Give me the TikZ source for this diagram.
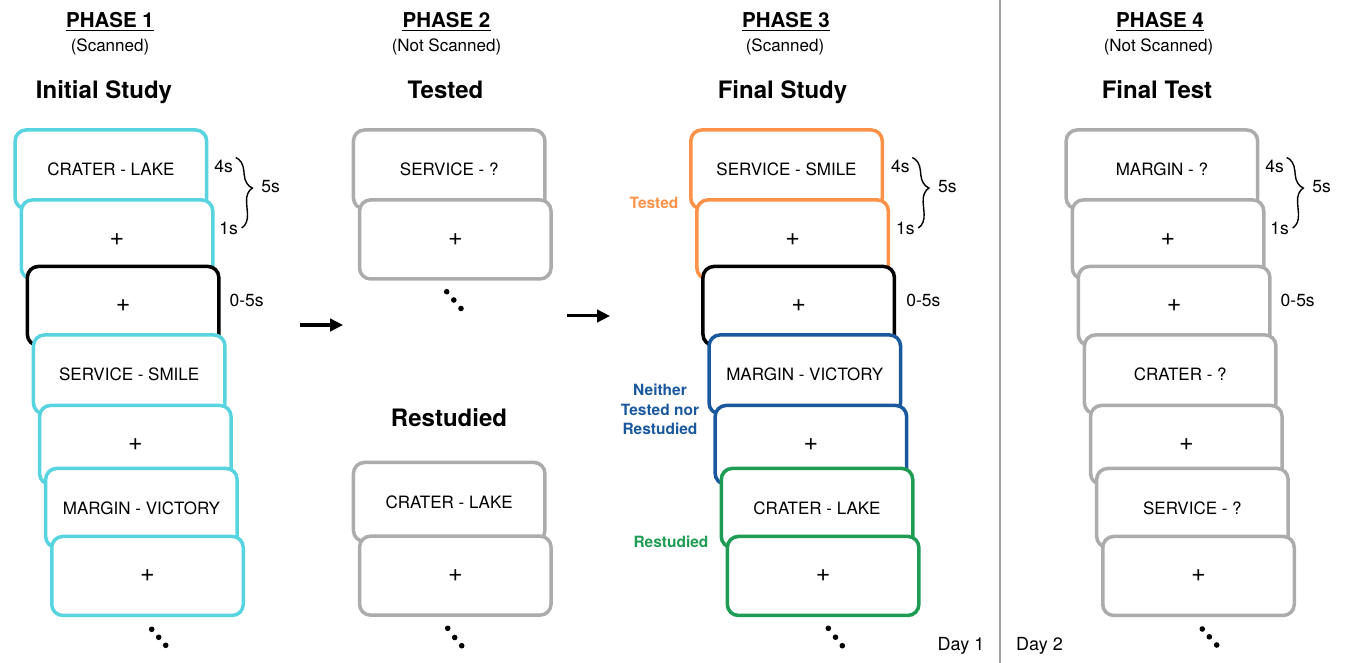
\documentclass[tikz,border=0pt]{standalone}
\usepackage{fontspec}
\setmainfont{TeX Gyre Heros}
\usetikzlibrary{arrows.meta,decorations.pathreplacing}

\definecolor{cardcyan}{RGB}{88,211,224}
\definecolor{cardorange}{RGB}{252,146,72}
\definecolor{cardblue}{RGB}{26,88,158}
\definecolor{cardgreen}{RGB}{30,156,84}
\definecolor{cardgray}{RGB}{172,172,172}
\definecolor{rulegray}{RGB}{160,160,160}

\newcommand\cardfont{\fontsize{17}{20}\selectfont}
\newcommand\hdrfont{\fontsize{20.5}{24}\selectfont\bfseries}
\newcommand\subfont{\fontsize{17}{20}\selectfont}
\newcommand\ttlfont{\fontsize{24}{28}\selectfont\bfseries}
\newcommand\timefont{\fontsize{17.5}{20}\selectfont}
\newcommand\condfont{\fontsize{15.5}{19}\selectfont\bfseries}
\newcommand\dayfont{\fontsize{18}{21}\selectfont}
% fixation cross shown on the blank screens
\newcommand\fixcross{{\fontsize{25}{25}\selectfont +}}

\begin{document}
\begin{tikzpicture}[x=1pt,y=-1pt,
  card/.style={draw=#1, fill=white, line width=3.5pt, rounded corners=11pt,
    minimum width=191.5pt, minimum height=79pt, anchor=north west,
    inner sep=0pt, font=\cardfont},
  txt/.style={anchor=base, inner sep=0pt},
  hdr/.style={txt, font=\hdrfont},
  sub/.style={txt, font=\subfont},
  ttl/.style={txt, font=\ttlfont},
  tlabel/.style={txt, font=\timefont},
  cond/.style={txt, font=\condfont, text=#1},
  uline/.style={line width=1.4pt},
  flow/.style={line width=3pt, -{Triangle[length=13pt,width=12.5pt]}},
  bracestyle/.style={decorate, decoration={brace, amplitude=14pt, aspect=0.45},
    line width=1.4pt},
  dot/.style={fill=black, draw=none},
]
\useasboundingbox (0,0) rectangle (1345,663);

% ---------- headers ----------
\foreach \k/\hx/\sx/\tx/\sub/\ttl in {
    1/110/110/104/(Scanned)/Initial Study,
    2/446.5/446.5/445.5/(Not Scanned)/Tested,
    3/786/785/782.5/(Scanned)/Final Study,
    4/1160/1158.5/1157/(Not Scanned)/Final Test}{
  \node[hdr] (h\k) at (\hx,28) {PHASE \k};
  \draw[uline] ([yshift=-2.8pt]h\k.base west) -- ([yshift=-2.8pt]h\k.base east);
  \node[sub] (s\k) at (\sx,52) {\sub};
  \node[ttl] (t\k) at (\tx,99) {\ttl};
}
\node[ttl] (t2b) at (449,426.5) {Restudied};

% ---------- phase 1: initial study ----------
\foreach \i/\ty/\txt/\col in {0/126.5/CRATER - LAKE/cardcyan,
    1/196.5/\fixcross/cardcyan, 2/263/\fixcross/black,
    3/331.5/SERVICE - SMILE/cardcyan, 4/402/\fixcross/cardcyan,
    5/465/MARGIN - VICTORY/cardcyan, 6/533/\fixcross/cardcyan}
  \node[card=\col] (p1c\i) at ({13.4+6.1*\i},{\ty+1.7}) {\txt};

% ---------- phase 2: tested / restudied ----------
\node[card=cardgray] (p2a0) at (351.7,128.2) {SERVICE - ?};
\node[card=cardgray] (p2a1) at (357.8,198.2) {\fixcross};
\node[card=cardgray] (p2b0) at (351.7,460.7) {CRATER - LAKE};
\node[card=cardgray] (p2b1) at (357.8,534.4) {\fixcross};

% ---------- phase 3: final study ----------
\foreach \i/\ty/\txt/\col in {0/126.5/SERVICE - SMILE/cardorange,
    1/196.5/\fixcross/cardorange, 2/263/\fixcross/black,
    3/331.5/MARGIN - VICTORY/cardblue, 4/402/\fixcross/cardblue,
    5/465/CRATER - LAKE/cardgreen, 6/533/\fixcross/cardgreen}
  \node[card=\col] (p3c\i) at ({689.0+6.1*\i},{\ty+1.7}) {\txt};

\node[cond=cardorange] (lt) at (654,209) {Tested};
\node[cond=cardblue] (ln1) at (660,395) {Neither};
\node[cond=cardblue] (ln2) at (660,415) {Tested nor};
\node[cond=cardblue] (ln3) at (660,434.5) {Restudied};
\node[cond=cardgreen] (lr) at (671,547) {Restudied};

% ---------- phase 4: final test ----------
\foreach \i/\ty/\txt in {0/126.5/MARGIN - ?, 1/196.5/\fixcross,
    2/263/\fixcross, 3/331.5/CRATER - ?, 4/402/\fixcross,
    5/465/SERVICE - ?, 6/533/\fixcross}
  \node[card=cardgray] (p4c\i) at ({1064.4+6.1*\i},{\ty+1.7}) {\txt};

% ---------- timing labels and braces ----------
\foreach \R/\k in {206.7/1, 883.3/3, 1257.7/4}{
  \node[tlabel] (f\k) at ({\R+17},173) {4s};
  \node[tlabel] (o\k) at ({\R+22},235) {1s};
  \node[tlabel] (j\k) at ({\R+40},307) {0-5s};
  \node[tlabel] (w\k) at ({\R+64},193) {5s};
  \coordinate (bt\k) at ({\R+29},157.5);
  \coordinate (bb\k) at ({\R+35},228);
  \draw[bracestyle] (bt\k) -- (bb\k);
}

% ---------- continuation dots ----------
\foreach \x/\y in {151.7/629.3, 158.7/637.3, 165.7/645.3,
    446.7/291.7, 453.8/300, 461/308.5,
    447.7/628.3, 454.7/637.5, 461.7/645.7,
    828.3/628.3, 835.5/637.2, 842.3/645.7,
    1202.3/629, 1209.3/636.8, 1216.7/645}
  \fill[dot] (\x,\y) circle (2.8pt);

% ---------- flow arrows between phases ----------
\coordinate (a1s) at (300,325);
\coordinate (a1e) at (343,325);
\coordinate (a2s) at (566.5,316);
\coordinate (a2e) at (610,316);
\draw[flow] (a1s) -- (a1e);
\draw[flow] (a2s) -- (a2e);

% ---------- day divider ----------
\coordinate (dtop) at (1000,0);
\coordinate (dbot) at (1000,663);
\draw[rulegray, line width=1.3pt] (dtop) -- (dbot);
\node[txt, font=\dayfont] (d1) at (961,650) {Day 1};
\node[txt, font=\dayfont] (d2) at (1039.5,650) {Day 2};
\end{tikzpicture}
\end{document}
